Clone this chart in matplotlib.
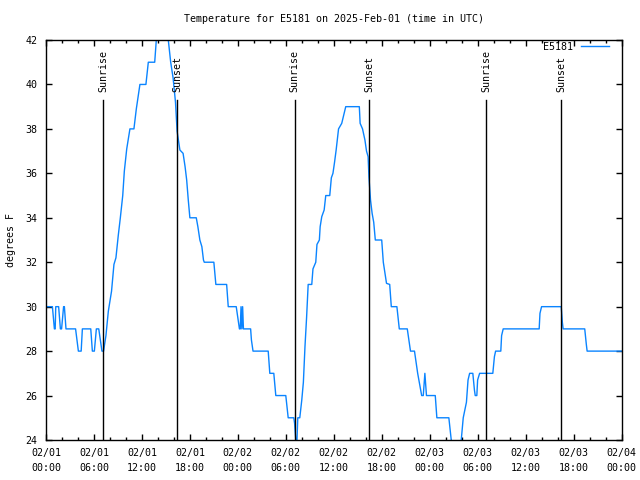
import matplotlib
matplotlib.use("Agg")
import matplotlib.pyplot as plt
from matplotlib.ticker import MultipleLocator, FixedLocator
import matplotlib.transforms as mtransforms

# ---- data (hours since 2025-02-01 00:00 UTC, temperature in F) ----
hours = [0, 0.8, 1.05, 1.15, 1.22, 1.58, 1.8, 1.95, 2.2, 2.3, 2.5, 3.7, 4.05, 4.4, 4.55,
         5.6, 5.8, 6.05, 6.3, 6.6, 6.8, 7.0, 7.2,
         7.5, 7.8, 8.2, 8.5, 8.75, 9.04, 9.3, 9.6, 9.8, 10.1, 10.5, 11.0, 11.3, 11.75,
         12.5, 12.8, 13.6, 13.8, 14.1, 15.0, 15.3, 15.6, 15.9, 16.2, 16.4, 16.75, 17.15,
         17.4, 17.6, 17.8, 18.0, 18.8, 19.0, 19.25, 19.5, 19.7, 19.8, 21.0, 21.25, 22.6,
         22.8, 23.8, 24.2, 24.3, 24.4, 24.5, 24.6, 24.7, 25.6, 25.7, 25.9, 27.8, 28.0,
         28.5, 28.75, 30.0, 30.3, 31.0, 31.1, 31.25, 31.4, 31.5, 31.75, 32.0, 32.2, 32.4,
         32.6, 32.8, 33.25, 33.4, 33.75, 33.9, 34.2, 34.3, 34.5, 34.8, 35.0, 35.5, 35.7,
         35.9, 36.1, 36.3, 36.6, 37.0, 37.2, 37.5, 39.2, 39.3, 39.6, 39.9, 40.1, 40.3,
         40.4, 40.6, 40.8, 41.0, 41.2, 42.0, 42.2, 42.6, 43.0, 43.2, 43.9, 44.2, 45.2,
         45.4, 45.6, 46.1, 46.3, 46.5, 47.0, 47.2, 47.4, 47.6, 48.7, 48.9, 50.4, 50.7,
         50.8, 51.8, 51.95, 52.2, 52.6, 52.8, 53.0, 53.4, 53.6, 53.7, 53.9, 54.0, 54.25,
         55.9, 56.1, 56.25, 56.9, 57.0, 57.2, 61.7, 61.8, 62.0, 64.46, 64.6, 64.7, 67.4,
         67.6, 67.7, 72.0]
temps = [30, 30, 29, 29, 30, 30, 29, 29, 30, 30, 29, 29, 28, 28, 29,
         29, 28, 28, 29, 29, 28.5, 28, 28,
         28.7, 29.8, 30.7, 31.9, 32.2, 33.2, 34.0, 35.0, 36.1, 37.1, 38.0, 38.0, 38.9, 40,
         40, 41, 41, 42, 43, 43, 42, 41, 40.3, 39.2, 37.9, 37.05, 36.9,
         36.3, 35.7, 34.8, 34.0, 34.0, 33.6, 33.0, 32.7, 32.1, 32.0, 32, 31, 31,
         30, 30, 29, 29, 30, 29, 30, 29, 29, 28.5, 28, 28, 27,
         27, 26, 26, 25, 25, 24.75, 24, 24, 25, 25, 25.8, 26.6, 28.2,
         29.5, 31.0, 31, 31.7, 32.0, 32.8, 33.0, 33.6, 34.05, 34.35, 35.0, 35, 35.8,
         36.0, 36.5, 37.05, 38.0, 38.25, 38.55, 39.0, 39, 38.25, 38.0, 37.5, 37, 36.75,
         35.85, 34.8, 34.2, 33.8, 33.0, 33, 32, 31.05, 31, 30, 30, 29, 29,
         28.5, 28, 28, 27.5, 27, 26, 26, 27, 26, 26, 25, 25, 24,
         23, 23, 24, 25, 25.7, 26.7, 27, 27, 26.25, 26, 26, 26.7, 27,
         27, 27.75, 28, 28, 28.7, 29, 29, 29.7, 30, 30, 29.3, 29, 29,
         28.3, 28, 28]

sunrise = [7.15, 31.13, 55.1]
sunset = [16.4, 40.43, 64.46]

xtick_hours = list(range(0, 73, 6))
xtick_labels = ["02/01\n00:00", "02/01\n06:00", "02/01\n12:00", "02/01\n18:00",
                "02/02\n00:00", "02/02\n06:00", "02/02\n12:00", "02/02\n18:00",
                "02/03\n00:00", "02/03\n06:00", "02/03\n12:00", "02/03\n18:00",
                "02/04\n00:00"]
yticks = list(range(24, 43, 2))

title = "Temperature for E5181 on 2025-Feb-01 (time in UTC)"
series_name = "E5181"

# ---- plotting ----
plt.rcParams['font.family'] = ['DejaVu Sans Mono']
FS = 7.2

fig = plt.figure(figsize=(6.4, 4.8), dpi=100)
ax = fig.add_axes([46/640, 40/480, 575.5/640, 400/480])

ax.plot(hours, temps, color='#0a84ff', lw=1.0, label=series_name)

for t in sunrise + sunset:
    ax.axvline(t, ymin=0, ymax=0.85, color='black', lw=1.0)
trans = mtransforms.blended_transform_factory(ax.transData, ax.transAxes)
for t in sunrise:
    ax.text(t, 0.87, "Sunrise", transform=trans, rotation=90, ha='center',
            va='bottom', fontsize=FS)
for t in sunset:
    ax.text(t, 0.87, "Sunset", transform=trans, rotation=90, ha='center',
            va='bottom', fontsize=FS)

ax.set_xlim(0, 72)
ax.set_ylim(24, 42)
ax.xaxis.set_major_locator(FixedLocator(xtick_hours))
ax.set_xticklabels(xtick_labels, fontsize=FS, linespacing=1.6)
ax.xaxis.set_minor_locator(MultipleLocator(2))
ax.set_yticks(yticks)
ax.set_yticklabels([str(v) for v in yticks], fontsize=FS)

ax.tick_params(axis='both', which='major', direction='in', length=4.5, width=1.0,
               top=True, right=True, color='black')
ax.tick_params(axis='x', which='minor', direction='in', length=2.2, width=1.0,
               top=True)
ax.tick_params(axis='x', which='major', pad=6)
ax.tick_params(axis='y', which='major', pad=6)
for s in ax.spines.values():
    s.set_linewidth(1.0)
    s.set_color('black')

leg = ax.legend(loc='upper right', bbox_to_anchor=((609-46)/575.5, 1 - 2/400),
                frameon=False, markerfirst=False, fontsize=FS, handlelength=2.8,
                handletextpad=0.8, borderpad=0, borderaxespad=0)

fig.text((46+621.5)/2/640, 1 - 19/480, title, ha='center', va='center', fontsize=FS)
fig.text(11/640, 0.5, "degrees F", rotation=90, ha='center', va='center', fontsize=FS)

fig.savefig("out.png", dpi=100)
